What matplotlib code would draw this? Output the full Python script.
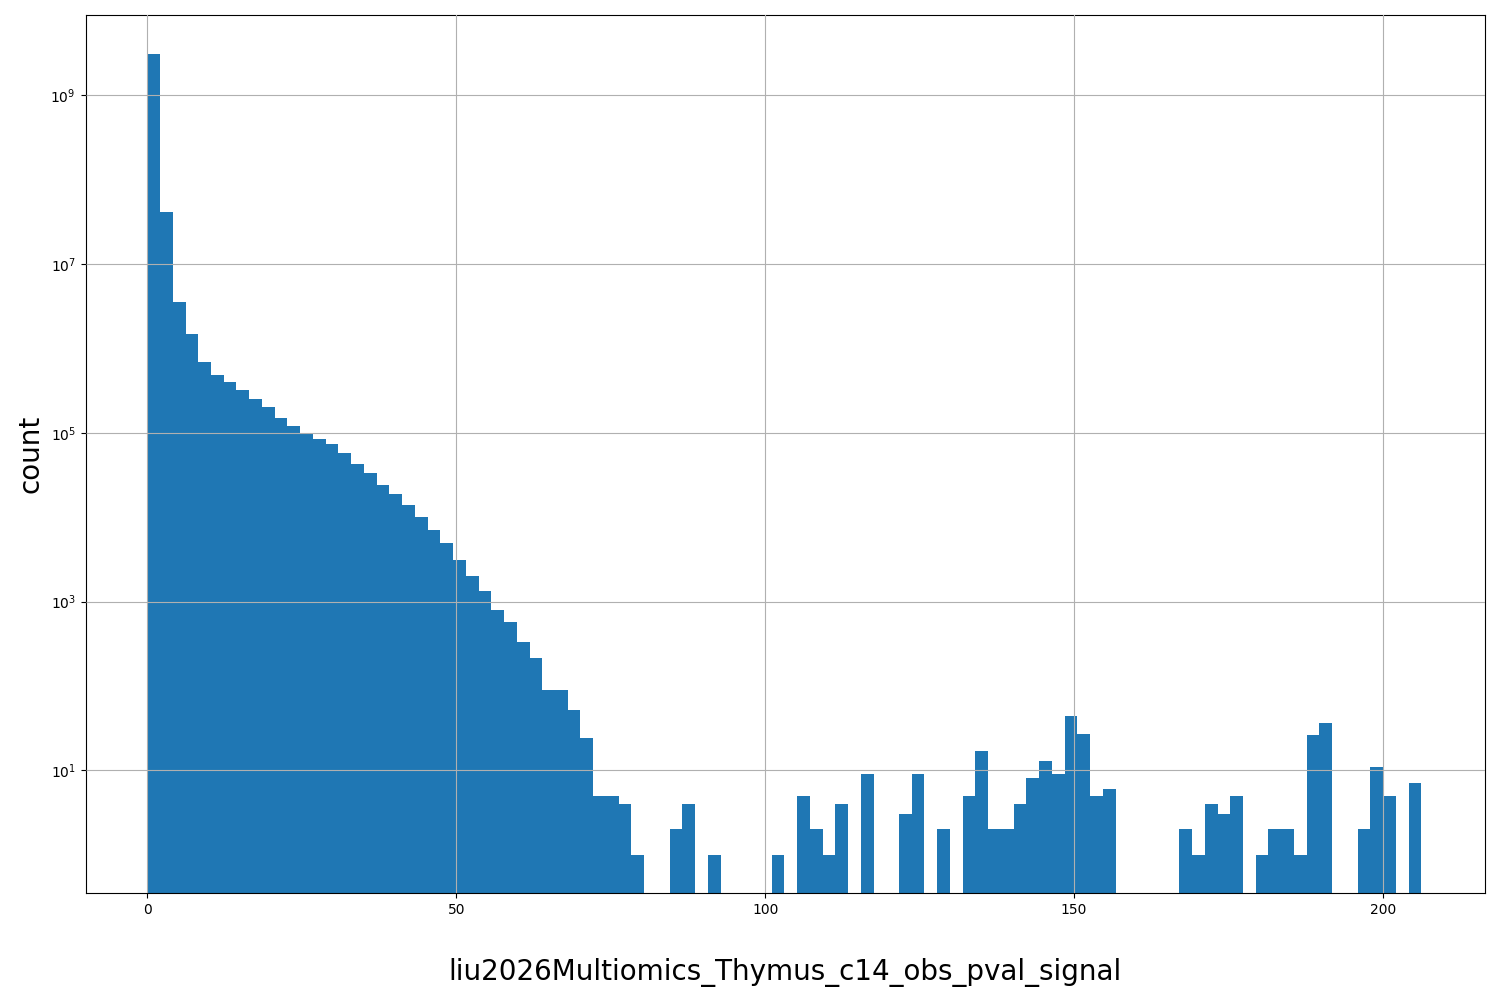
import numpy as np
import matplotlib.pyplot as plt

# histogram of signal values, 100 bins from 0 to ~206
bin_min = 0.0
bin_max = 206.2
counts = [
    3.1e9, 4.2e7, 3.6e6, 1.5e6, 7e5, 4.9e5, 4e5, 3.2e5, 2.5e5, 2e5,
    1.5e5, 1.2e5, 1.0e5, 8.4e4, 7.3e4, 5.8e4, 4.3e4, 3.3e4, 2.4e4, 1.9e4,
    1.4e4, 1.0e4, 7e3, 4.9e3, 3.1e3, 2.0e3, 1350, 800, 570, 330,
    215, 89, 89, 52, 24, 5, 5, 4, 1, 0,
    0, 2, 4, 0, 1, 0, 0, 0, 0, 1,
    0, 5, 2, 1, 4, 0, 9, 0, 0, 3,
    9, 0, 2, 0, 5, 17, 2, 2, 4, 8,
    13, 9, 44, 27, 5, 6, 0, 0, 0, 0,
    0, 2, 1, 4, 3, 5, 0, 1, 2, 2,
    1, 26, 36, 0, 0, 2, 11, 5, 0, 7,
]
xlabel = "liu2026Multiomics_Thymus_c14_obs_pval_signal"

edges = np.linspace(bin_min, bin_max, len(counts) + 1)
centers = (edges[:-1] + edges[1:]) / 2

fig, ax = plt.subplots(figsize=(15, 10), dpi=100)
fig.subplots_adjust(left=0.057, right=0.99, top=0.985, bottom=0.107)
ax.hist(centers, bins=edges, weights=counts, color="#1f77b4", log=True)
ax.set_yscale("log")
ax.set_ylim(0.35, 9e9)
ax.set_xlim(-10, 216.5)
ax.grid(True)
ax.set_axisbelow(False)
ax.set_xlabel(xlabel, fontsize=20, labelpad=30)
ax.set_ylabel("count", fontsize=20)
plt.savefig("out.png")
